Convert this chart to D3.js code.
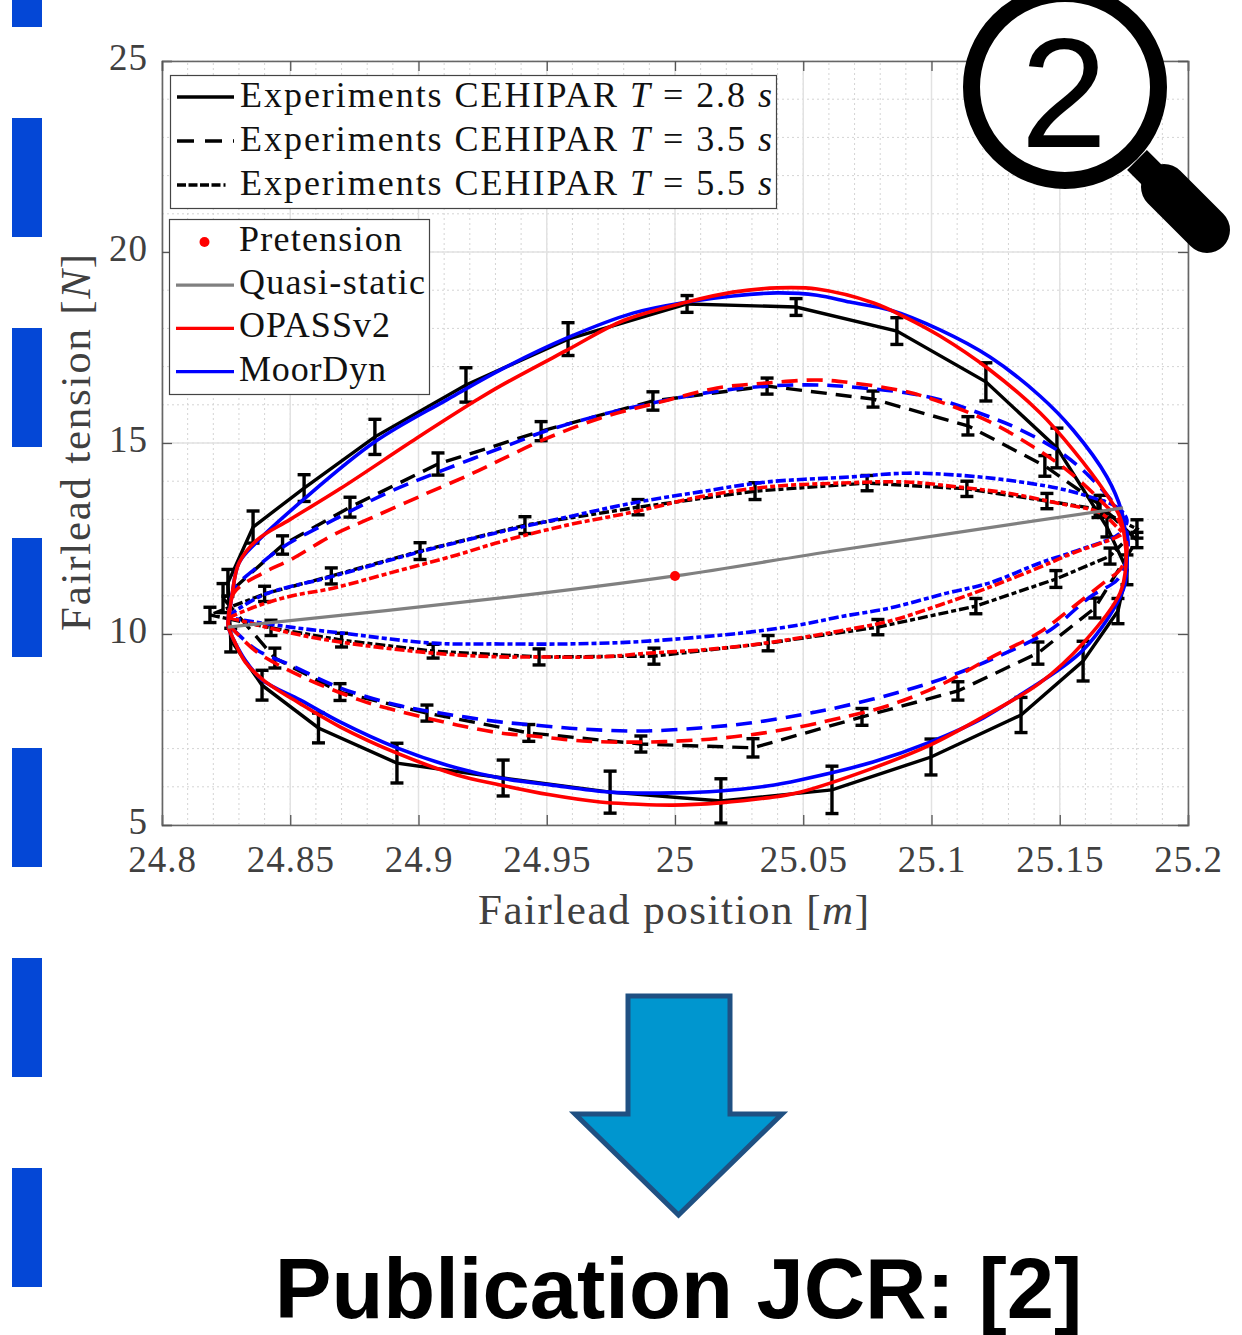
<!DOCTYPE html>
<html>
<head>
<meta charset="utf-8">
<script src="https://cdn.jsdelivr.net/npm/d3@7"></script>
<style>
	html, body { margin: 0; padding: 0; background: #fff; }
	svg { display: block; }
	text { font-family: "Liberation Serif", serif; }
</style>
</head>
<body>
<div id="chart"></div>
<script>
// Tick labels
const xTicks = [24.8, 24.85, 24.9, 24.95, 25, 25.05, 25.1, 25.15, 25.2];
const yTicks = [5, 10, 15, 20, 25];

// Experiments: [position, tension, error]
const exp28 = [[24.8268,9.84,.31],[24.839,8.66,.39],[24.861,7.54,.39],[24.8916,6.62,.52],[24.933,6.23,.47],[24.9747,5.86,.55],[25.0179,5.63,.58],[25.0612,5.92,.62],[25.0998,6.78,.47],[25.1349,7.88,.46],[25.1591,9.29,.52],[25.1727,10.6,.33],[25.1762,11.68,.39],[25.1684,12.8,.26],[25.1489,14.87,.52],[25.1212,16.6,.5],[25.0865,17.93,.35],[25.0472,18.56,.22],[25.0047,18.64,.22],[24.9583,17.72,.43],[24.9185,16.52,.45],[24.883,15.16,.46],[24.8554,13.82,.35],[24.8355,12.8,.42],[24.8257,11.34,.35],[24.8268,9.84,.31]];
const exp35 = [[24.8238,10.94,.38],[24.844,9.37,.26],[24.8694,8.48,.22],[24.9033,7.93,.21],[24.943,7.41,.22],[24.9867,7.12,.21],[25.0304,7.02,.24],[25.0729,7.83,.22],[25.1103,8.51,.24],[25.1415,9.5,.29],[25.1637,10.68,.26],[25.1801,12.46,.2],[25.1657,13.38,.25],[25.1442,14.4,.27],[25.1142,15.45,.24],[25.0772,16.15,.21],[25.0359,16.49,.21],[24.9914,16.1,.24],[24.9478,15.31,.25],[24.9076,14.45,.29],[24.8733,13.32,.26],[24.847,12.33,.24],[24.8238,10.94,.38]];
const exp55 = [[24.8187,10.5,.2],[24.8425,10.16,.2],[24.87,9.84,.18],[24.9057,9.55,.18],[24.947,9.4,.21],[24.9918,9.42,.21],[25.0363,9.76,.2],[25.0791,10.18,.2],[25.1173,10.73,.2],[25.1485,11.44,.22],[25.1696,12.04,.21],[25.1801,12.75,.24],[25.1649,13.27,.22],[25.145,13.48,.2],[25.1138,13.8,.2],[25.0749,13.95,.2],[25.0312,13.74,.22],[24.9856,13.32,.2],[24.9415,12.85,.22],[24.9006,12.17,.22],[24.866,11.52,.21],[24.84,11.05,.2],[24.8187,10.5,.2]];

// OPASSv2 loops: [position, tension]
const opass28 = [[24.8257,10.18],[24.8273,11.02],[24.83,11.86],[24.837,12.46],[24.85,13],[24.8694,13.8],[24.8994,15.13],[24.9228,16.13],[24.9318,16.49],[24.9579,17.43],[24.9797,18.2],[25.0047,18.69],[25.0226,18.95],[25.0398,19.06],[25.0554,19.03],[25.0772,18.67],[25.0904,18.27],[25.1033,17.8],[25.1228,16.91],[25.1423,15.79],[25.1552,14.82],[25.1684,13.64],[25.1735,13.06],[25.1754,12.46],[25.1758,11.81],[25.1735,11.07],[25.1591,9.76],[25.1423,8.72],[25.1201,7.83],[25.0994,7.09],[25.0772,6.49],[25.0487,5.86],[25.0359,5.71],[25.0175,5.58],[24.9992,5.52],[24.9836,5.55],[24.9708,5.6],[24.9513,5.79],[24.9318,6.05],[24.915,6.31],[24.8916,6.88],[24.8694,7.57],[24.854,8.17],[24.8394,8.8],[24.8324,9.27],[24.828,9.84],[24.8257,10.18]];
const opass35 = [[24.8257,10.25],[24.828,11.07],[24.8394,11.6],[24.85,11.94],[24.8667,12.59],[24.8823,13.06],[24.9018,13.64],[24.9212,14.21],[24.9318,14.55],[24.9485,15.08],[24.9708,15.65],[24.9942,16.07],[25.0164,16.44],[25.0359,16.57],[25.0554,16.65],[25.0694,16.57],[25.0904,16.34],[25.1045,16.05],[25.1228,15.55],[25.1396,14.9],[25.1528,14.29],[25.1657,13.51],[25.1735,12.91],[25.1762,12.2],[25.1735,11.68],[25.1684,11.41],[25.1528,10.58],[25.1423,10.05],[25.1228,9.37],[25.1033,8.66],[25.0838,8.14],[25.0643,7.8],[25.0487,7.57],[25.0292,7.36],[25.0097,7.23],[24.9864,7.17],[24.9641,7.2],[24.9446,7.33],[24.9318,7.41],[24.915,7.62],[24.8877,8.06],[24.8772,8.27],[24.855,8.87],[24.837,9.53],[24.828,10.1],[24.8257,10.25]];
const opass55 = [[24.8257,10.42],[24.837,10.73],[24.85,10.99],[24.8667,11.2],[24.889,11.6],[24.915,12.07],[24.9318,12.41],[24.9579,12.85],[24.9836,13.19],[25.0097,13.59],[25.0359,13.85],[25.0643,13.95],[25.0904,13.98],[25.11,13.85],[25.1294,13.69],[25.1489,13.43],[25.1657,13.17],[25.1723,12.8],[25.1743,12.64],[25.1723,12.54],[25.1552,12.12],[25.1423,11.75],[25.1228,11.23],[25.1033,10.76],[25.0838,10.34],[25.0643,10.08],[25.0487,9.9],[25.0292,9.71],[25.0097,9.58],[24.9903,9.5],[24.9708,9.4],[24.9446,9.4],[24.9318,9.4],[24.9057,9.5],[24.8694,9.79],[24.85,10.03],[24.8265,10.42]];

// MoorDyn loops: [position, tension]
const moor28 = [[24.8257,10.18],[24.8273,11.02],[24.83,11.86],[24.837,12.41],[24.855,13.51],[24.883,15.03],[24.911,16.13],[24.9318,16.91],[24.9579,17.75],[24.9836,18.4],[25.0047,18.69],[25.0226,18.85],[25.0398,18.93],[25.0554,18.87],[25.0682,18.69],[25.0838,18.48],[25.1033,17.96],[25.1228,17.25],[25.1423,16.23],[25.1552,15.34],[25.1684,14.11],[25.1743,13.17],[25.1758,12.46],[25.1762,11.81],[25.1747,11.15],[25.1591,9.58],[25.1345,8.4],[25.1201,7.8],[25.0994,7.17],[25.0772,6.65],[25.0487,6.18],[25.0359,6.02],[25.0175,5.89],[24.9992,5.84],[24.9747,5.86],[24.9513,6.05],[24.9318,6.23],[24.915,6.49],[24.8916,7.02],[24.8694,7.7],[24.854,8.27],[24.839,8.8],[24.8324,9.32],[24.828,9.84],[24.8257,10.18]];
const moor35 = [[24.8257,10.25],[24.828,11.15],[24.837,11.75],[24.8472,12.28],[24.8667,12.98],[24.8877,13.69],[24.9096,14.29],[24.9384,15.03],[24.9485,15.29],[24.9708,15.73],[24.9914,16.05],[25.0148,16.34],[25.0359,16.49],[25.0554,16.52],[25.0682,16.47],[25.0904,16.31],[25.1033,16.13],[25.1228,15.68],[25.1333,15.39],[25.1489,14.82],[25.1618,14.11],[25.1735,13.17],[25.1766,12.46],[25.1754,11.81],[25.1723,11.41],[25.1618,10.97],[25.1462,10.1],[25.1255,9.4],[25.106,8.87],[25.0865,8.46],[25.0643,8.09],[25.0487,7.88],[25.0292,7.67],[25.0097,7.54],[24.9864,7.46],[24.9641,7.51],[24.9446,7.62],[24.9318,7.7],[24.9084,7.93],[24.8916,8.14],[24.8694,8.59],[24.85,9.19],[24.837,9.58],[24.828,10.1],[24.8257,10.25]];
const moor55 = [[24.8257,10.47],[24.8394,11.02],[24.8655,11.49],[24.9006,12.15],[24.9318,12.67],[24.9579,13.06],[24.9836,13.43],[25.0097,13.72],[25.0359,13.98],[25.0682,14.11],[25.0904,14.21],[25.11,14.16],[25.1294,14.03],[25.1489,13.82],[25.1618,13.59],[25.1723,13.32],[25.1762,12.98],[25.1735,12.64],[25.1552,12.15],[25.1423,11.86],[25.1228,11.34],[25.106,11.07],[25.0838,10.68],[25.0643,10.45],[25.0487,10.24],[25.0292,10.05],[25.0097,9.92],[24.9836,9.79],[24.9579,9.74],[24.9318,9.74],[24.9057,9.76],[24.8694,10.03],[24.85,10.18],[24.8265,10.42]];

// Quasi-static curve and pretension point
const quasi = [[24.8257,10.18],[24.9357,10.97],[25,11.52],[25.0643,12.2],[25.1747,13.3]];
const pretension = [25, 11.52];

// Legends
const legendExp = ['2.8', '3.5', '5.5'];
const legendModels = ['Pretension', 'Quasi-static', 'OPASSv2', 'MoorDyn'];
const title = 'Publication JCR: [2]';
const badge = '2';

const W = 1242, H = 1335;
const svg = d3.select('#chart').append('svg').attr('width', W).attr('height', H);

const x = d3.scaleLinear().domain([24.8, 25.2]).range([162, 1188]);
const y = d3.scaleLinear().domain([5, 25]).range([825, 61]);

const DASH = '16 9', DASHDOT = '10 3 5 3';
const ink = '#404040';

// Blue dashes down the left edge
svg.selectAll('rect.side')
	.data(d3.range(-92, 1200, 210))
	.join('rect')
	.attr('class', 'side')
	.attr('x', 12).attr('y', d => d)
	.attr('width', 30).attr('height', 119)
	.attr('fill', '#0447d6');

// Grid
const minorX = d3.range(24.8, 25.2001, 0.01);
const minorY = d3.range(5, 25.01, 1);
const grid = svg.append('g');
grid.selectAll('line.mx').data(minorX).join('line')
	.attr('x1', d => x(d)).attr('x2', d => x(d)).attr('y1', y(5)).attr('y2', y(25))
	.attr('stroke', '#d4d4d4').attr('stroke-dasharray', '2 3');
grid.selectAll('line.my').data(minorY).join('line')
	.attr('class', 'my')
	.attr('x1', x(24.8)).attr('x2', x(25.2)).attr('y1', d => y(d)).attr('y2', d => y(d))
	.attr('stroke', '#d4d4d4').attr('stroke-dasharray', '2 3');
grid.selectAll('line.gx').data(xTicks).join('line')
	.attr('class', 'gx')
	.attr('x1', d => x(d)).attr('x2', d => x(d)).attr('y1', y(5)).attr('y2', y(25))
	.attr('stroke', '#e2e2e2').attr('stroke-width', 1.5);
grid.selectAll('line.gy').data(yTicks).join('line')
	.attr('class', 'gy')
	.attr('x1', x(24.8)).attr('x2', x(25.2)).attr('y1', d => y(d)).attr('y2', d => y(d))
	.attr('stroke', '#e2e2e2').attr('stroke-width', 1.5);

// Axes, all four sides, ticks pointing in
function styleAxis(g) {
	g.selectAll('path').attr('stroke', '#666').attr('stroke-width', 1.6);
	g.selectAll('line').attr('stroke', '#555').attr('stroke-width', 1.3);
	g.selectAll('text')
		.attr('fill', ink)
		.style('font-size', '37px')
		.style('font-family', '"Liberation Serif", serif')
		.attr('letter-spacing', 1);
}
svg.append('g').attr('transform', `translate(0,${y(5)})`)
	.call(d3.axisBottom(x).tickValues(xTicks).tickFormat(d3.format('~g')).tickSize(-10).tickPadding(21))
	.call(styleAxis);
svg.append('g').attr('transform', `translate(${x(24.8)},0)`)
	.call(d3.axisLeft(y).tickValues(yTicks).tickFormat(d3.format('d')).tickSize(-10).tickPadding(14))
	.call(styleAxis)
	.selectAll('text').attr('dy', '0.24em');
svg.append('g').attr('transform', `translate(0,${y(25)})`)
	.call(d3.axisTop(x).tickValues(xTicks).tickFormat('').tickSize(-10))
	.call(styleAxis);
svg.append('g').attr('transform', `translate(${x(25.2)},0)`)
	.call(d3.axisRight(y).tickValues(yTicks).tickFormat('').tickSize(-10))
	.call(styleAxis);

// Axis titles
const xTitle = svg.append('text')
	.attr('x', 478).attr('y', 924)
	.attr('textLength', 391)
	.attr('fill', ink).style('font-size', '43px');
xTitle.append('tspan').text('Fairlead position [');
xTitle.append('tspan').attr('font-style', 'italic').text('m');
xTitle.append('tspan').text(']');

const yTitle = svg.append('text')
	.attr('transform', 'translate(90,631) rotate(-90)')
	.attr('textLength', 377)
	.attr('fill', ink).style('font-size', '43px');
yTitle.append('tspan').text('Fairlead tension [');
yTitle.append('tspan').attr('font-style', 'italic').text('N');
yTitle.append('tspan').text(']');

// Experiments: line plus error bars
const straight = d3.line().x(d => x(d[0])).y(d => y(d[1]));
const smooth = d3.line().x(d => x(d[0])).y(d => y(d[1])).curve(d3.curveCatmullRom.alpha(0.5));

function drawExperiment(data, dash) {
	const g = svg.append('g').attr('stroke', '#000').attr('fill', 'none');
	g.append('path').datum(data).attr('d', straight)
		.attr('stroke-width', 3.4).attr('stroke-dasharray', dash);
	const bars = g.selectAll('g').data(data.slice(0, -1)).join('g').attr('stroke-width', 3.4);
	bars.append('line')
		.attr('x1', d => x(d[0])).attr('x2', d => x(d[0]))
		.attr('y1', d => y(d[1] - d[2])).attr('y2', d => y(d[1] + d[2]));
	[-1, 1].forEach(s => {
		bars.append('line')
			.attr('x1', d => x(d[0]) - 6.5).attr('x2', d => x(d[0]) + 6.5)
			.attr('y1', d => y(d[1] + s * d[2])).attr('y2', d => y(d[1] + s * d[2]));
	});
}
drawExperiment(exp28, null);
drawExperiment(exp35, DASH);
drawExperiment(exp55, DASHDOT);

// Model loops
function drawModel(data, color, dash) {
	svg.append('path').datum(data).attr('d', smooth)
		.attr('fill', 'none').attr('stroke', color)
		.attr('stroke-width', 3.6).attr('stroke-dasharray', dash);
}
drawModel(moor28, '#0000ff', null);
drawModel(moor35, '#0000ff', DASH);
drawModel(moor55, '#0000ff', DASHDOT);
drawModel(opass28, '#ff0000', null);
drawModel(opass35, '#ff0000', DASH);
drawModel(opass55, '#ff0000', DASHDOT);

svg.append('path').datum(quasi).attr('d', smooth)
	.attr('fill', 'none').attr('stroke', '#808080').attr('stroke-width', 3.2);
svg.append('circle')
	.attr('cx', x(pretension[0])).attr('cy', y(pretension[1])).attr('r', 5)
	.attr('fill', '#ff0000');

// Experiment legend
const legendFont = '36px';
svg.append('rect').attr('x', 170.5).attr('y', 75.5).attr('width', 606).attr('height', 133)
	.attr('fill', '#fff').attr('stroke', '#444').attr('stroke-width', 1.2);
legendExp.forEach((t, i) => {
	const ly = 97 + i * 44;
	svg.append('line').attr('x1', 177).attr('x2', 234).attr('y1', ly).attr('y2', ly)
		.attr('stroke', '#000').attr('stroke-width', 3.4)
		.attr('stroke-dasharray', [null, '17 11 17 11 2', '9 2.5 9 2.5 9 2.5 9 3 2'][i]);
	const label = svg.append('text').attr('x', 240).attr('y', ly + 10)
		.attr('textLength', 532).attr('fill', '#111').style('font-size', legendFont);
	label.append('tspan').text('Experiments CEHIPAR ');
	label.append('tspan').attr('font-style', 'italic').text('T');
	label.append('tspan').text(` = ${t} `);
	label.append('tspan').attr('font-style', 'italic').text('s');
});

// Model legend
svg.append('rect').attr('x', 169.5).attr('y', 219.5).attr('width', 260).attr('height', 175)
	.attr('fill', '#fff').attr('stroke', '#444').attr('stroke-width', 1.2);
const legendColors = ['#ff0000', '#808080', '#ff0000', '#0000ff'];
const legendWidths = [163, 186, 151, 147];
legendModels.forEach((name, i) => {
	const ly = 242 + i * 43.2;
	if (i === 0) {
		svg.append('circle').attr('cx', 204.5).attr('cy', ly).attr('r', 5).attr('fill', legendColors[i]);
	} else {
		svg.append('line').attr('x1', 176).attr('x2', 234).attr('y1', ly).attr('y2', ly)
			.attr('stroke', legendColors[i]).attr('stroke-width', 3.2);
	}
	svg.append('text').attr('x', 239).attr('y', ly + 9)
		.attr('textLength', legendWidths[i]).attr('fill', '#111')
		.style('font-size', legendFont).text(name);
});

// Magnifier badge
const lens = svg.append('g');
lens.append('line').attr('x1', 1137).attr('y1', 160).attr('x2', 1172).attr('y2', 195)
	.attr('stroke', '#000').attr('stroke-width', 28);
lens.append('line').attr('x1', 1164).attr('y1', 187).attr('x2', 1207).attr('y2', 230)
	.attr('stroke', '#000').attr('stroke-width', 46).attr('stroke-linecap', 'round');
lens.append('circle').attr('cx', 1065).attr('cy', 87).attr('r', 93.5)
	.attr('fill', '#fff').attr('stroke', '#000').attr('stroke-width', 17);
lens.append('text').attr('x', 1064).attr('y', 147).attr('text-anchor', 'middle')
	.style('font-family', '"Liberation Sans", sans-serif').style('font-size', '156px')
	.attr('fill', '#000').text(badge);

// Arrow
const arrowPoints = [[628, 996], [730, 996], [730, 1114], [782, 1114], [678.5, 1215], [575, 1114], [628, 1114]];
svg.append('polygon')
	.attr('points', arrowPoints.join(' '))
	.attr('fill', '#0096cf').attr('stroke', '#1f5082').attr('stroke-width', 5);

// Publication line
svg.append('text').attr('x', 678.5).attr('y', 1318).attr('text-anchor', 'middle')
	.style('font-family', '"Liberation Sans", sans-serif').style('font-weight', 'bold')
	.style('font-size', '85px').attr('fill', '#000').text(title);
</script>
</body>
</html>
